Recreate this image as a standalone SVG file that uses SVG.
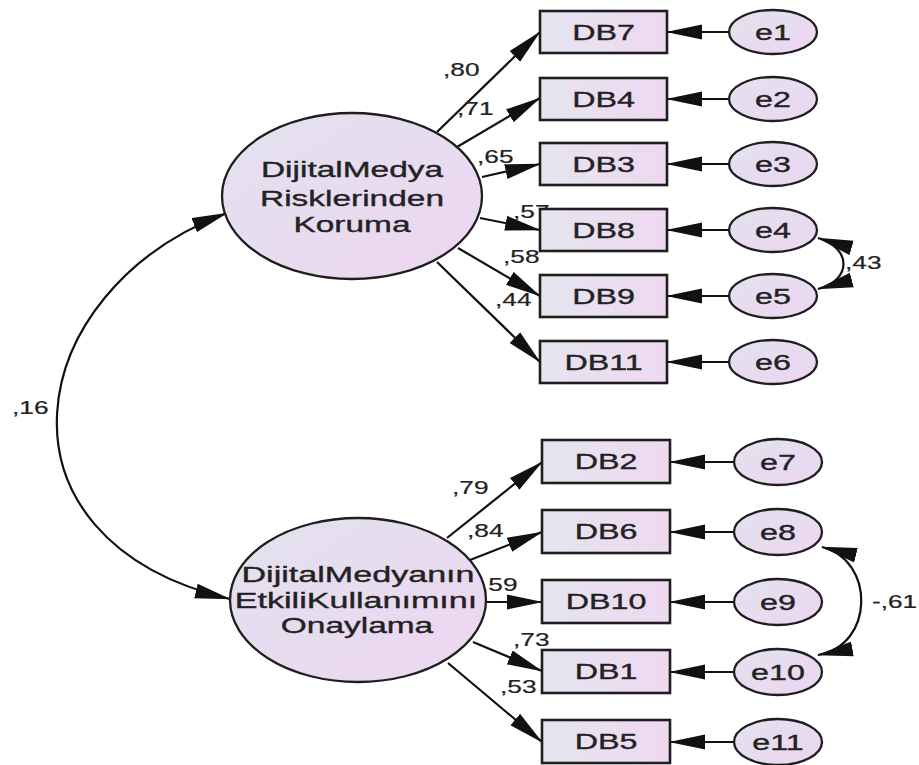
<svg xmlns="http://www.w3.org/2000/svg" width="919" height="765" viewBox="0 0 919 765">
<style>
text{font-family:"Liberation Sans",Arial,sans-serif;fill:#222;stroke:#222;stroke-width:0.35}
.lat{font-size:22px;text-anchor:middle}
.obs{font-size:21.5px;text-anchor:middle}
.lbl{font-size:17.5px;stroke-width:0.2}
.box{fill:url(#gBox);stroke:#1e1e1e;stroke-width:2.6}
.ell{fill:url(#gEll);stroke:#1e1e1e;stroke-width:2.3}
.ln{fill:none;stroke:#111;stroke-width:2.2;marker-end:url(#ah)}
.cov{fill:none;stroke:#111;stroke-width:2.2;marker-end:url(#ah);marker-start:url(#ah)}
</style>
<defs>
<linearGradient id="gBox" x1="0" y1="0" x2="1" y2="0"><stop offset="0" stop-color="#e5e5ef"/><stop offset="1" stop-color="#efd8f1"/></linearGradient>
<linearGradient id="gEll" x1="0" y1="0" x2="1" y2="1"><stop offset="0" stop-color="#e2e2ef"/><stop offset="1" stop-color="#eed5f1"/></linearGradient>
<marker id="ah" markerUnits="userSpaceOnUse" markerWidth="36" markerHeight="16" viewBox="0 0 36 16" refX="35" refY="8" orient="auto-start-reverse"><path d="M0,0.5 L36,8 L0,15.5 z" fill="#111"/></marker>
</defs>
<rect width="919" height="765" fill="#fff"/>

<g id="connectors">
<path class="cov" d="M227,213 C20,290 -20,540 230,599"/>
<path class="ln" d="M437,132 L540,32"/>
<path class="ln" d="M457,147 L540,98"/>
<path class="ln" d="M482,177 L540,164"/>
<path class="ln" d="M480,218 L540,230"/>
<path class="ln" d="M458,248 L540,296"/>
<path class="ln" d="M437,262 L540,362"/>
<path class="ln" d="M447,538 L542,462"/>
<path class="ln" d="M470,560 L542,532"/>
<path class="ln" d="M487,602 L542,602"/>
<path class="ln" d="M473,642 L542,671"/>
<path class="ln" d="M448,663 L542,742"/>
<path class="ln" d="M729,32 L667,32"/>
<path class="ln" d="M729,99 L667,99"/>
<path class="ln" d="M729,164 L667,164"/>
<path class="ln" d="M729,230 L667,230"/>
<path class="ln" d="M729,296 L667,296"/>
<path class="ln" d="M729,362 L667,362"/>
<path class="ln" d="M734,462 L670,462"/>
<path class="ln" d="M734,532 L670,532"/>
<path class="ln" d="M734,602 L670,602"/>
<path class="ln" d="M734,672 L670,672"/>
<path class="ln" d="M734,742 L670,742"/>
<path class="cov" d="M818,238 C852,248 852,280 818,289"/>
<path class="cov" d="M822,547 C875,560 875,645 818,655"/>
<g id="labels">
<text class="lbl" transform="translate(12,414) scale(1.5,1)">,16</text>
<text class="lbl" transform="translate(443,76) scale(1.5,1)">,80</text>
<text class="lbl" transform="translate(457,115) scale(1.5,1)">,71</text>
<text class="lbl" transform="translate(477,163) scale(1.5,1)">,65</text>
<text class="lbl" transform="translate(513,218) scale(1.5,1)">,57</text>
<text class="lbl" transform="translate(503,263) scale(1.5,1)">,58</text>
<text class="lbl" transform="translate(495,306) scale(1.5,1)">,44</text>
<text class="lbl" transform="translate(452,494) scale(1.5,1)">,79</text>
<text class="lbl" transform="translate(467,537) scale(1.5,1)">,84</text>
<text class="lbl" transform="translate(481,591) scale(1.5,1)">,59</text>
<text class="lbl" transform="translate(513,646) scale(1.5,1)">,73</text>
<text class="lbl" transform="translate(500,693) scale(1.5,1)">,53</text>
<text class="lbl" transform="translate(845,269) scale(1.5,1)">,43</text>
<text class="lbl" transform="translate(872,608) scale(1.5,1)">-,61</text>
</g>
</g>

<g id="F1"><ellipse class="ell" cx="352" cy="196" rx="130" ry="83"/>
<text class="lat" transform="translate(352,177) scale(1.52,1)">DijitalMedya</text>
<text class="lat" transform="translate(352,206) scale(1.52,1)">Risklerinden</text>
<text class="lat" transform="translate(352,232) scale(1.52,1)">Koruma</text></g>
<g id="F2"><ellipse class="ell" cx="358" cy="600" rx="128" ry="82"/>
<text class="lat" transform="translate(358,582) scale(1.55,1)">DijitalMedyanın</text>
<text class="lat" transform="translate(356,608) scale(1.55,1)">EtkiliKullanımını</text>
<text class="lat" transform="translate(357,633) scale(1.52,1)">Onaylama</text></g>

<g id="DB7"><rect class="box" x="540" y="11" width="127" height="42"/><text class="obs" transform="translate(603.5,40) scale(1.5,1)">DB7</text></g>
<g id="DB4"><rect class="box" x="540" y="78" width="127" height="42"/><text class="obs" transform="translate(603.5,106.5) scale(1.5,1)">DB4</text></g>
<g id="DB3"><rect class="box" x="540" y="143" width="127" height="42"/><text class="obs" transform="translate(603.5,171.5) scale(1.5,1)">DB3</text></g>
<g id="DB8"><rect class="box" x="540" y="209" width="127" height="42"/><text class="obs" transform="translate(603.5,237.5) scale(1.5,1)">DB8</text></g>
<g id="DB9"><rect class="box" x="540" y="275" width="127" height="42"/><text class="obs" transform="translate(603.5,303.5) scale(1.5,1)">DB9</text></g>
<g id="DB11"><rect class="box" x="540" y="341" width="127" height="42"/><text class="obs" transform="translate(603.5,369.5) scale(1.5,1)">DB11</text></g>
<g id="DB2"><rect class="box" x="542" y="440" width="128" height="43"/><text class="obs" transform="translate(606,469) scale(1.5,1)">DB2</text></g>
<g id="DB6"><rect class="box" x="542" y="510" width="128" height="43"/><text class="obs" transform="translate(606,539) scale(1.5,1)">DB6</text></g>
<g id="DB10"><rect class="box" x="542" y="580" width="128" height="43"/><text class="obs" transform="translate(606,609) scale(1.5,1)">DB10</text></g>
<g id="DB1"><rect class="box" x="542" y="650" width="128" height="43"/><text class="obs" transform="translate(606,679) scale(1.5,1)">DB1</text></g>
<g id="DB5"><rect class="box" x="542" y="720" width="128" height="43"/><text class="obs" transform="translate(606,749) scale(1.5,1)">DB5</text></g>

<g id="e1"><ellipse class="ell" cx="773" cy="32" rx="44" ry="22"/><text class="obs" transform="translate(773,39.5) scale(1.5,1)">e1</text></g>
<g id="e2"><ellipse class="ell" cx="773" cy="99" rx="44" ry="22"/><text class="obs" transform="translate(773,106.5) scale(1.5,1)">e2</text></g>
<g id="e3"><ellipse class="ell" cx="773" cy="164" rx="44" ry="22"/><text class="obs" transform="translate(773,171.5) scale(1.5,1)">e3</text></g>
<g id="e4"><ellipse class="ell" cx="773" cy="230" rx="44" ry="22"/><text class="obs" transform="translate(773,237.5) scale(1.5,1)">e4</text></g>
<g id="e5"><ellipse class="ell" cx="773" cy="296" rx="44" ry="22"/><text class="obs" transform="translate(773,303.5) scale(1.5,1)">e5</text></g>
<g id="e6"><ellipse class="ell" cx="773" cy="362" rx="44" ry="22"/><text class="obs" transform="translate(773,369.5) scale(1.5,1)">e6</text></g>
<g id="e7"><ellipse class="ell" cx="778" cy="462" rx="44" ry="23"/><text class="obs" transform="translate(778,469.5) scale(1.5,1)">e7</text></g>
<g id="e8"><ellipse class="ell" cx="778" cy="532" rx="44" ry="23"/><text class="obs" transform="translate(778,539.5) scale(1.5,1)">e8</text></g>
<g id="e9"><ellipse class="ell" cx="778" cy="602" rx="44" ry="23"/><text class="obs" transform="translate(778,609.5) scale(1.5,1)">e9</text></g>
<g id="e10"><ellipse class="ell" cx="778" cy="672" rx="44" ry="23"/><text class="obs" transform="translate(778,679.5) scale(1.5,1)">e10</text></g>
<g id="e11"><ellipse class="ell" cx="778" cy="742" rx="44" ry="23"/><text class="obs" transform="translate(778,749.5) scale(1.5,1)">e11</text></g>
</svg>
